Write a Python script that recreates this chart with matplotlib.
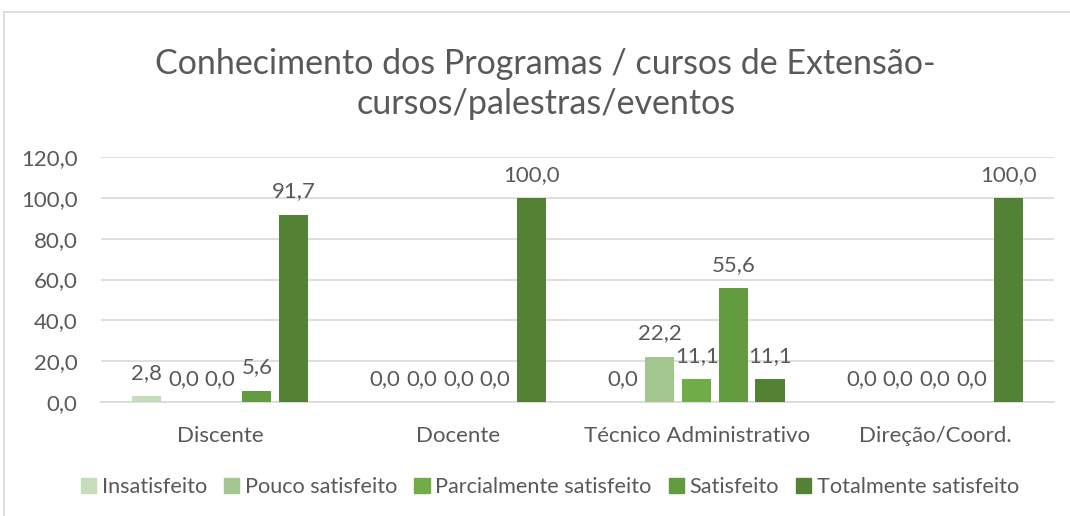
import matplotlib
matplotlib.use("Agg")
import matplotlib.pyplot as plt
import numpy as np
from matplotlib.lines import Line2D

plt.rcParams['font.family'] = ['Lato', 'DejaVu Sans']

categories = ["Discente", "Docente", "Técnico Administrativo", "Direção/Coord."]
series_names = ["Insatisfeito", "Pouco satisfeito", "Parcialmente satisfeito",
                "Satisfeito", "Totalmente satisfeito"]
insatisfeito = [2.8, 0.0, 0.0, 0.0]
pouco_satisfeito = [0.0, 0.0, 22.2, 0.0]
parcialmente_satisfeito = [0.0, 0.0, 11.1, 0.0]
satisfeito = [5.6, 0.0, 55.6, 0.0]
totalmente_satisfeito = [91.7, 100.0, 11.1, 100.0]
yticks = [0, 20, 40, 60, 80, 100, 120]

series = [insatisfeito, pouco_satisfeito, parcialmente_satisfeito,
          satisfeito, totalmente_satisfeito]
colors = ["#C5DDB8", "#A3C691", "#70AD47", "#629C3E", "#548235"]
text_color = "#595959"
grid_color = "#D9D9D9"

W, H = 1070, 516
fig = plt.figure(figsize=(W / 100, H / 100), dpi=100)

# chart frame (top and left edges visible)
fig.add_artist(Line2D([4 / W, 4 / W], [0, 1 - 12 / H], color=grid_color, lw=1.2,
                      transform=fig.transFigure))
fig.add_artist(Line2D([4 / W, 1], [1 - 12 / H, 1 - 12 / H], color=grid_color, lw=1.2,
                      transform=fig.transFigure))

left, right = 101, 1054
top, bottom = 157, 402
ax = fig.add_axes([left / W, 1 - bottom / H, (right - left) / W, (bottom - top) / H])

x = np.arange(len(categories))
step = 0.154
width = 0.122
for i, (vals, col) in enumerate(zip(series, colors)):
    pos = x + (i - 2) * step
    ax.bar(pos, vals, width=width, color=col, label=series_names[i], zorder=3)
    for xp, v in zip(pos, vals):
        ax.annotate(f"{v:.1f}".replace(".", ","), (xp, v), xytext=(0, 9.5),
                    textcoords="offset points", ha="center", va="bottom",
                    fontsize=16, color=text_color)

ax.set_xlim(-0.5, len(categories) - 0.5)
ax.set_ylim(0, 120)
ax.set_yticks(yticks)
ax.set_yticklabels([f"{t:.1f}".replace(".", ",") for t in yticks])
ax.set_xticks(x)
ax.set_xticklabels(categories)
ax.tick_params(length=0, labelsize=16, colors=text_color)
ax.tick_params(axis="y", pad=17)
ax.tick_params(axis="x", pad=17)
ax.grid(axis="y", color=grid_color, lw=1.2, zorder=0)
for s in ["top", "right", "left"]:
    ax.spines[s].set_visible(False)
ax.spines["bottom"].set_color(grid_color)
ax.spines["bottom"].set_linewidth(1.2)

fig.text(0.51, 1 - 84 / H, "Conhecimento dos Programas / cursos de Extensão-\ncursos/palestras/eventos",
         ha="center", va="center", fontsize=24.5, color=text_color, linespacing=1.3)

handles = [plt.Rectangle((0, 0), 1, 1, color=c) for c in colors]
fig.legend(handles, series_names, loc="center", bbox_to_anchor=(0.514, 1 - 487 / H),
           ncol=5, frameon=False, fontsize=15.6, labelcolor=text_color,
           handlelength=0.7, handleheight=0.7, handletextpad=0.25, columnspacing=0.8)

fig.savefig("out.png", dpi=100)
